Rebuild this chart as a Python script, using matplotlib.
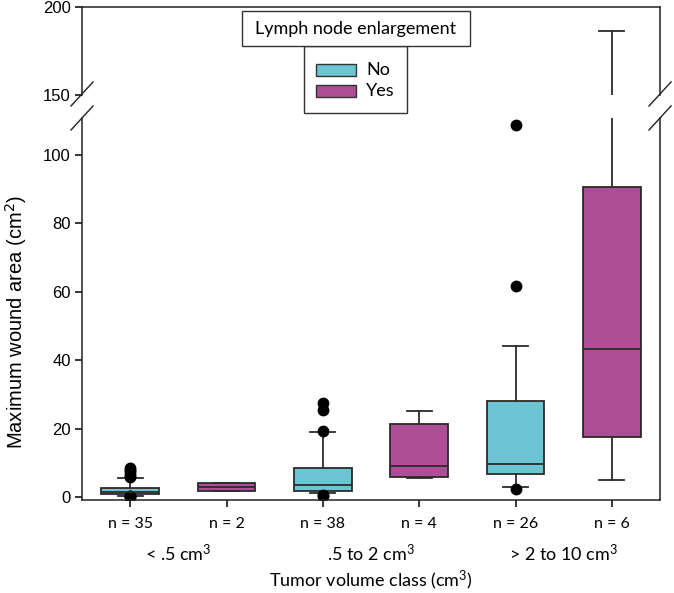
import matplotlib
matplotlib.use("Agg")
import matplotlib.pyplot as plt
from matplotlib.patches import Rectangle
from matplotlib.lines import Line2D

# ---- data ----
groups = ["No", "Yes", "No", "Yes", "No", "Yes"]
n_labels = ["n = 35", "n = 2", "n = 38", "n = 4", "n = 26", "n = 6"]
class_labels = ["< .5 cm$^3$", ".5 to 2 cm$^3$", "> 2 to 10 cm$^3$"]
q1 = [0.8, 1.75, 1.85, 5.9, 6.6, 17.5]
med = [1.55, 2.9, 3.4, 8.9, 9.6, 43.3]
q3 = [2.55, 4.2, 8.4, 21.3, 28.1, 90.6]
whislo = [0.4, 1.75, 1.1, 5.5, 2.9, 5.0]
whishi = [5.5, 4.2, 18.9, 25.1, 44.2, 186.4]
fliers = [
    [0.05, 0.15, 0.3, 5.8, 6.5, 7.2, 7.8, 8.5],
    [],
    [0.2, 0.6, 19.2, 25.4, 27.6],
    [],
    [2.2, 61.7, 108.8],
    [],
]
legend_labels = ["No", "Yes"]
legend_title = "Lymph node enlargement"
colors = {"No": "#6CC5D3", "Yes": "#AE4E96"}
lower_ticks = [0, 20, 40, 60, 80, 100]
upper_ticks = [150, 200]

plt.rcParams["mathtext.fontset"] = "custom"
plt.rcParams["mathtext.rm"] = "Lato"
plt.rcParams["mathtext.it"] = "Lato:italic"

W, H = 674, 593
fig = plt.figure(figsize=(W / 100, H / 100), dpi=100)

def fx(px):
    return px / W

def fy(py):
    return 1 - py / H

L, R = 82, 660
ax_lo = fig.add_axes([fx(L), fy(500), fx(R) - fx(L), (500 - 118) / H])
ax_up = fig.add_axes([fx(L), fy(95), fx(R) - fx(L), (95 - 7) / H])

positions = list(range(1, len(groups) + 1))
stats = []
for i in range(len(groups)):
    stats.append(dict(q1=q1[i], med=med[i], q3=q3[i], whislo=whislo[i],
                      whishi=whishi[i], fliers=fliers[i]))

edge = "#2b2b2b"
for ax in (ax_lo, ax_up):
    bp = ax.bxp(stats, positions=positions, widths=0.6, capwidths=0.26,
                patch_artist=True, showfliers=True,
                boxprops=dict(edgecolor=edge, linewidth=1.3),
                medianprops=dict(color=edge, linewidth=1.3),
                whiskerprops=dict(color=edge, linewidth=1.3),
                capprops=dict(color=edge, linewidth=1.3),
                flierprops=dict(marker="o", markerfacecolor="black",
                                markeredgecolor="black", markersize=7.5))
    for patch, g in zip(bp["boxes"], groups):
        patch.set_facecolor(colors[g])
    ax.set_xlim(0.5, 6.5)
    for s in ax.spines.values():
        s.set_linewidth(1.1)
        s.set_color("#222222")

ax_lo.set_ylim(-0.9, 110.8)
ax_up.set_ylim(150, 200)
ax_lo.spines["top"].set_visible(False)
ax_up.spines["bottom"].set_visible(False)

tick_font = dict(family="Liberation Sans", size=12)
ax_lo.set_yticks(lower_ticks)
ax_lo.set_yticklabels([str(t) for t in lower_ticks], **tick_font)
ax_up.set_yticks(upper_ticks)
ax_up.set_yticklabels([str(t) for t in upper_ticks], **tick_font)
for ax in (ax_lo, ax_up):
    ax.tick_params(axis="y", direction="out", length=5, width=1.1, pad=3)

ax_up.set_xticks([])
ax_lo.set_xticks(positions)
ax_lo.set_xticklabels(n_labels, family="Lato", size=11.5)
ax_lo.tick_params(axis="x", direction="out", length=5, width=1.1, pad=7)

# category labels (centered between pairs)
for k, lab in enumerate(class_labels):
    xc = (positions[2 * k] + positions[2 * k + 1]) / 2
    ax_lo.text(xc, fy(561), lab, transform=ax_lo.get_xaxis_transform().__class__(
        ax_lo.transData, fig.transFigure),
               ha="center", va="baseline", family="Lato", size=13)

fig.text(fx((L + R) / 2), fy(587), "Tumor volume class (cm$^3$)", ha="center",
         va="baseline", family="Lato", size=13)
fig.text(fx(16), fy(322), "Maximum wound area (cm$^2$)", rotation=90,
         ha="center", va="center", family="Liberation Sans", size=14.5,
         math_fontfamily="dejavusans")

# axis break marks
for xpx in (L, R):
    for ypx in (94, 118):
        fig.add_artist(Line2D([fx(xpx - 11), fx(xpx + 11)],
                              [fy(ypx + 12), fy(ypx - 12)],
                              color="#222222", linewidth=1.0))

# legend (manual)
fig.add_artist(Rectangle((fx(304), fy(113)), fx(407) - fx(304), (113 - 46) / H,
                         transform=fig.transFigure, facecolor="white",
                         edgecolor="#333333", linewidth=1.0, zorder=5))
fig.add_artist(Rectangle((fx(242), fy(46)), fx(470) - fx(242), (46 - 11) / H,
                         transform=fig.transFigure, facecolor="white",
                         edgecolor="#333333", linewidth=1.0, zorder=5))
fig.text(fx(356), fy(29), legend_title, ha="center", va="center",
         family="Lato", size=13, zorder=6)
for j, lab in enumerate(legend_labels):
    yc = 70 + j * 21
    fig.add_artist(Rectangle((fx(316), fy(yc + 6)), fx(356) - fx(316), 12 / H,
                             transform=fig.transFigure, facecolor=colors[lab],
                             edgecolor="#333333", linewidth=1.0, zorder=6))
    fig.text(fx(366), fy(yc), lab, ha="left", va="center", family="Lato",
             size=13, zorder=6)

fig.savefig("out.png", dpi=100)
